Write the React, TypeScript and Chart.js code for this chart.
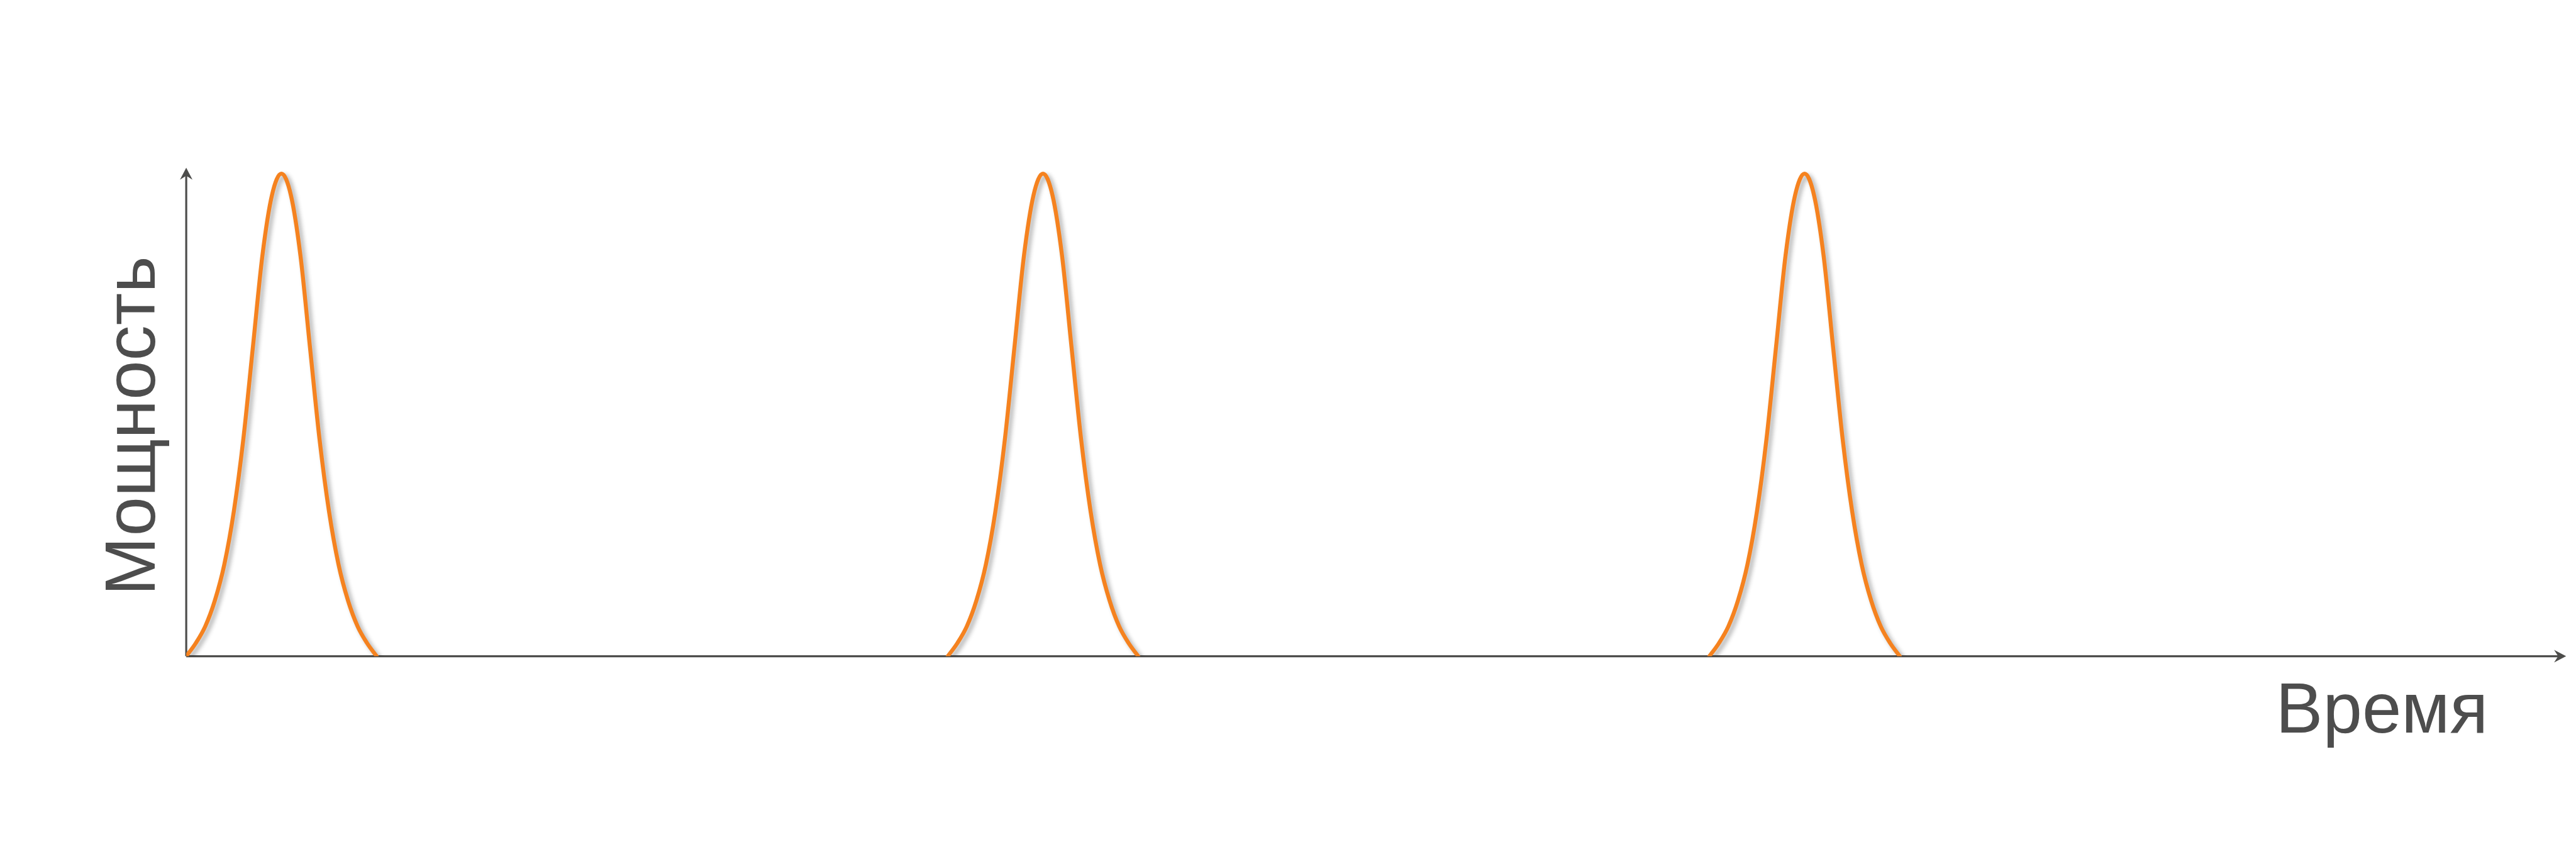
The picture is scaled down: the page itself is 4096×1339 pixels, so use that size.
import React, { useEffect, useRef } from "react";
import { Chart, registerables } from "chart.js";

Chart.register(...registerables);

// Time axis: pulse centres (arbitrary time units) and axis extent
const pulseCenters = [1, 9, 17];
const timeMin = 0;
const timeMax = 25;
// Pulse shape: offset from centre -> relative power
const pulseOffsets = [-1.0, -0.9, -0.8, -0.7, -0.6, -0.5, -0.4, -0.3, -0.2, -0.1, 0, 0.1, 0.2, 0.3, 0.4, 0.5, 0.6, 0.7, 0.8, 0.9, 1.0];
const pulseValues = [0, 0.027, 0.062, 0.115, 0.19, 0.3, 0.45, 0.64, 0.83, 0.955, 1, 0.955, 0.83, 0.64, 0.45, 0.3, 0.19, 0.115, 0.062, 0.027, 0];
const powerMin = 0;
const powerMax = 1.0124;
const xTitle = "Время";
const yTitle = "Мощность";

const S = 0.796;
const AXIS = "#4d4d4b";
const ORANGE = "#f5821f";

export default function App() {
  const ref = useRef<HTMLCanvasElement | null>(null);
  useEffect(() => {
    const canvas = ref.current!;
    const datasets = pulseCenters.map((c) => ({
      data: pulseOffsets.map((o, i) => ({ x: c + o, y: pulseValues[i] })),
      borderColor: ORANGE,
      borderWidth: 8 * S,
      borderCapStyle: "round" as const,
      borderJoinStyle: "round" as const,
      pointRadius: 0,
      fill: false,
      cubicInterpolationMode: "monotone" as const,
    }));

    const decor = {
      id: "decor",
      beforeDatasetsDraw(chart: any) {
        const ctx = chart.ctx as CanvasRenderingContext2D;
        const xs = chart.scales.x;
        const ys = chart.scales.y;
        const x0 = xs.getPixelForValue(timeMin);
        const x1 = xs.getPixelForValue(timeMax);
        const y0 = ys.getPixelForValue(powerMin);
        const y1 = ys.getPixelForValue(powerMax);
        ctx.save();
        ctx.strokeStyle = AXIS;
        ctx.fillStyle = AXIS;
        ctx.lineWidth = 4 * S;
        ctx.beginPath();
        ctx.moveTo(x0, y0);
        ctx.lineTo(x1 - 10 * S, y0);
        ctx.moveTo(x0, y0);
        ctx.lineTo(x0, y1 + 10 * S);
        ctx.stroke();
        // arrow heads
        const L = 24 * S, W = 12.5 * S, N = 16 * S;
        ctx.beginPath();
        ctx.moveTo(x1, y0);
        ctx.lineTo(x1 - L, y0 - W);
        ctx.lineTo(x1 - N, y0);
        ctx.lineTo(x1 - L, y0 + W);
        ctx.closePath();
        ctx.fill();
        ctx.beginPath();
        ctx.moveTo(x0, y1);
        ctx.lineTo(x0 - W, y1 + L);
        ctx.lineTo(x0, y1 + N);
        ctx.lineTo(x0 + W, y1 + L);
        ctx.closePath();
        ctx.fill();
        // titles
        ctx.font = `${141 * S}px "Liberation Sans", Arial, sans-serif`;
        ctx.textBaseline = "alphabetic";
        ctx.textAlign = "left";
        ctx.fillStyle = "#4d4d4d";
        ctx.fillText(xTitle, 4546 * S, 1463 * S);
        ctx.translate(309 * S, 1190 * S);
        ctx.rotate(-Math.PI / 2);
        ctx.fillText(yTitle, 0, 0);
        ctx.restore();
      },
      beforeDatasetDraw(chart: any) {
        const ctx = chart.ctx as CanvasRenderingContext2D;
        ctx.save();
        ctx.shadowColor = "rgba(0,0,0,0.32)";
        ctx.shadowBlur = 9 * S;
        ctx.shadowOffsetX = 6 * S;
        ctx.shadowOffsetY = 5 * S;
      },
      afterDatasetDraw(chart: any) {
        chart.ctx.restore();
      },
    };

    const left = 372 * S;
    const right = 4096 - 5126 * S;
    const top = 335 * S;
    const bottom = 1339 - 1311 * S;

    const chart = new Chart(canvas, {
      type: "line",
      data: { datasets },
      options: {
        animation: false,
        responsive: false,
        maintainAspectRatio: false,
        layout: { padding: { left, right, top, bottom } },
        plugins: { legend: { display: false }, tooltip: { enabled: false } },
        scales: {
          x: { type: "linear", min: timeMin, max: timeMax, display: false },
          y: { type: "linear", min: powerMin, max: powerMax, display: false },
        },
      },
      plugins: [decor],
    });
    return () => chart.destroy();
  }, []);

  return (
    <div style={{ position: "fixed", left: 0, top: 0, width: 4096, height: 1339, background: "#fff" }}>
      <canvas ref={ref} width={4096} height={1339} style={{ width: 4096, height: 1339, display: "block" }} />
    </div>
  );
}
